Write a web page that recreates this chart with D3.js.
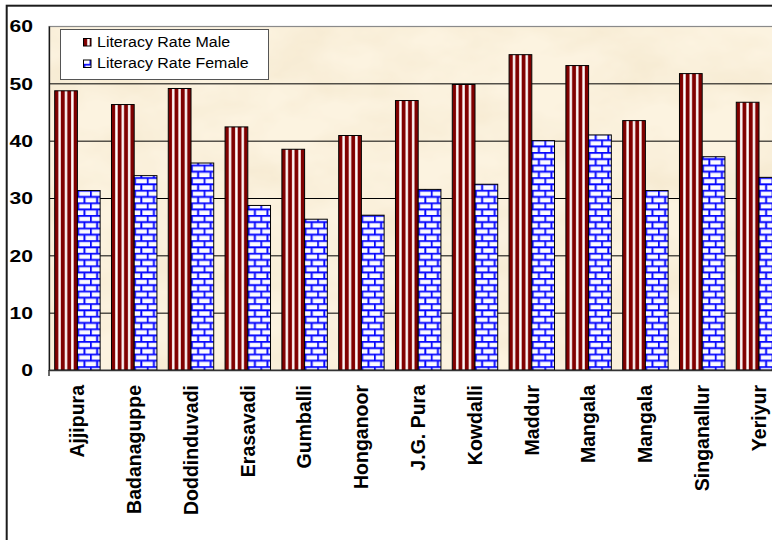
<!DOCTYPE html>
<html>
<head>
<meta charset="utf-8">
<script src="https://cdn.jsdelivr.net/npm/d3@7"></script>
<style>
  html, body { margin: 0; padding: 0; background: #fff; }
  svg { display: block; }
</style>
</head>
<body>
<script>
// Villages and literacy rates (%)
const categories = ["Ajjipura", "Badanaguppe", "Doddinduvadi", "Erasavadi", "Gumballi", "Honganoor",
  "J.G. Pura", "Kowdalli", "Maddur", "Mangala", "Mangala", "Singanallur", "Yeriyur"];
const maleRate = [48.7, 46.3, 49.1, 42.4, 38.5, 40.9, 47.0, 49.8, 55.0, 53.1, 43.5, 51.7, 46.7];
const femaleRate = [31.3, 33.9, 36.1, 28.7, 26.3, 27.0, 31.5, 32.4, 40.0, 41.0, 31.3, 37.2, 33.6];
const seriesNames = ["Literacy Rate Male", "Literacy Rate Female"];
const seriesKeys = ["male", "female"];
const yTicks = [0, 10, 20, 30, 40, 50, 60];

const W = 772, H = 540;
const plot = { left: 49, top: 26, right: 787.4, bottom: 370 };
const FONT = "'Liberation Sans', Arial, Helvetica, sans-serif";

const svg = d3.select("body").append("svg").attr("width", W).attr("height", H);
const defs = svg.append("defs");

// Vertical stripe fill for the male series
const stripes = defs.append("pattern").attr("id", "stripes")
  .attr("patternUnits", "userSpaceOnUse").attr("width", 6.37).attr("height", 10);
stripes.append("rect").attr("width", 6.37).attr("height", 10).attr("fill", "#ffffff");
stripes.append("rect").attr("x", 3.6).attr("width", 0.6).attr("height", 10).attr("fill", "#e8c8c8");
stripes.append("rect").attr("x", 5.8).attr("width", 0.57).attr("height", 10).attr("fill", "#d8a8a8");
stripes.append("rect").attr("width", 3.6).attr("height", 10).attr("fill", "#800000");

// Brick fill for the female series
const bw = 12.6, bh = 6.3;
const bricks = defs.append("pattern").attr("id", "bricks")
  .attr("patternUnits", "userSpaceOnUse").attr("y", plot.top)
  .attr("width", bw).attr("height", bh * 2);
bricks.append("rect").attr("width", bw).attr("height", bh * 2).attr("fill", "#fbfbff");
const brickLines = [
  [0, 0.8, bw, 0.8], [0, bh + 0.8, bw, bh + 0.8],
  [0.8, 0.8, 0.8, bh + 0.8], [bw / 2 + 0.8, bh + 0.8, bw / 2 + 0.8, bh * 2 + 0.8],
  [bw / 2 + 0.8, -bh + 0.8, bw / 2 + 0.8, 0.8]
];
bricks.selectAll("line.halo").data(brickLines).join("line")
  .attr("x1", d => d[0]).attr("y1", d => d[1]).attr("x2", d => d[2]).attr("y2", d => d[3])
  .attr("stroke", "#9a9aff").attr("stroke-width", 2.6);
bricks.selectAll("line.core").data(brickLines).join("line")
  .attr("x1", d => d[0]).attr("y1", d => d[1]).attr("x2", d => d[2]).attr("y2", d => d[3])
  .attr("stroke", "#0000ff").attr("stroke-width", 1.5);

// Parchment mottling for the plot background
const parch = defs.append("filter").attr("id", "parch")
  .attr("x", 0).attr("y", 0).attr("width", 1).attr("height", 1);
parch.append("feTurbulence").attr("type", "fractalNoise")
  .attr("baseFrequency", "0.012 0.02").attr("numOctaves", 4).attr("seed", 11).attr("result", "n");
parch.append("feColorMatrix").attr("in", "n").attr("type", "matrix")
  .attr("values", "0 0 0 0 0.80  0 0 0 0 0.66  0 0 0 0 0.42  0.55 0 0 0 -0.2");

const fills = { male: "url(#stripes)", female: "url(#bricks)" };

// Scales
const x0 = d3.scaleBand().domain(d3.range(categories.length))
  .range([plot.left, plot.right]).paddingInner(0.2).paddingOuter(0.1);
const x1 = d3.scaleBand().domain(seriesKeys).range([0, x0.bandwidth()]);
const y = d3.scaleLinear().domain([0, 60]).range([plot.bottom, plot.top]);

// Plot area background
svg.append("rect").attr("x", plot.left).attr("y", plot.top)
  .attr("width", plot.right - plot.left).attr("height", plot.bottom - plot.top)
  .attr("fill", "#fcf3e0");
svg.append("rect").attr("x", plot.left).attr("y", plot.top)
  .attr("width", plot.right - plot.left).attr("height", plot.bottom - plot.top)
  .attr("fill", "#000").attr("filter", "url(#parch)");
svg.append("rect").attr("x", plot.left).attr("y", plot.top + 0.5)
  .attr("width", plot.right - plot.left).attr("height", plot.bottom - plot.top - 0.5)
  .attr("fill", "none").attr("stroke", "#8a8a8a").attr("stroke-width", 1.2);

// Gridlines
const grid = svg.append("g").attr("transform", `translate(${plot.left},0)`)
  .call(d3.axisLeft(y).tickValues(yTicks.filter(v => v > 0 && v < 60))
    .tickSize(-(plot.right - plot.left)).tickFormat(""));
grid.select(".domain").remove();
grid.selectAll("line").attr("stroke", "#000").attr("stroke-width", 1);

// Bars
const rows = categories.map((c, i) => ({ i, male: maleRate[i], female: femaleRate[i] }));
const bars = svg.append("g");
rows.forEach(r => {
  seriesKeys.forEach(k => {
    bars.append("g").attr("transform", `translate(${x0(r.i) + x1(k)},0)`)
      .append("rect")
      .attr("x", 0).attr("y", y(r[k]))
      .attr("width", x1.bandwidth()).attr("height", y(0) - y(r[k]))
      .attr("fill", fills[k]).attr("stroke", "#000").attr("stroke-width", 1);
  });
});

// Y axis
const yAxis = svg.append("g").attr("transform", `translate(${plot.left},0)`)
  .call(d3.axisLeft(y).tickValues(yTicks).tickSize(0));
yAxis.select(".domain").attr("stroke", "#1a1a1a").attr("stroke-width", 1.3);
yAxis.selectAll("text")
  .attr("x", 0).attr("dy", "0.36em")
  .attr("transform", "translate(-16,0) scale(1.28,1)")
  .attr("font-family", FONT).attr("font-weight", "bold").attr("font-size", 16.5)
  .attr("fill", "#000");

// X axis
const xAxis = svg.append("g").attr("transform", `translate(0,${plot.bottom})`)
  .call(d3.axisBottom(x0).tickSize(0).tickFormat(i => categories[i]));
xAxis.select(".domain").attr("stroke", "#333").attr("stroke-width", 1.3);
xAxis.selectAll("text")
  .attr("transform", "rotate(-90)")
  .attr("x", -15).attr("y", 0).attr("dy", "0.35em")
  .attr("text-anchor", "end")
  .attr("font-family", FONT).attr("font-weight", "bold").attr("font-size", 19.5)
  .attr("fill", "#000");
svg.append("line").attr("x1", plot.left).attr("x2", plot.left)
  .attr("y1", plot.bottom).attr("y2", plot.bottom + 6)
  .attr("stroke", "#1a1a1a").attr("stroke-width", 1.3);

// Legend
const legend = svg.append("g");
legend.append("rect").attr("x", 60.5).attr("y", 29.5).attr("width", 208).attr("height", 50)
  .attr("fill", "#fff").attr("stroke", "#555").attr("stroke-width", 1);
seriesKeys.forEach((k, i) => {
  const ly = 38.5 + i * 21.5;
  legend.append("g").attr("transform", `translate(83.5,0)`)
    .append("rect").attr("x", 0).attr("y", ly).attr("width", 7.5).attr("height", 7.5)
    .attr("fill", fills[k]).attr("stroke", "#000").attr("stroke-width", 1);
  legend.append("text")
    .attr("transform", `translate(97,${ly + 8}) scale(1.065,1)`)
    .attr("font-family", FONT).attr("font-size", 15).attr("fill", "#000")
    .text(seriesNames[i]);
});

// Chart border
svg.append("rect").attr("x", 6.7).attr("y", 5.7).attr("width", 900).attr("height", 600)
  .attr("fill", "none").attr("stroke", "#1c1c1c").attr("stroke-width", 2);
</script>
</body>
</html>
